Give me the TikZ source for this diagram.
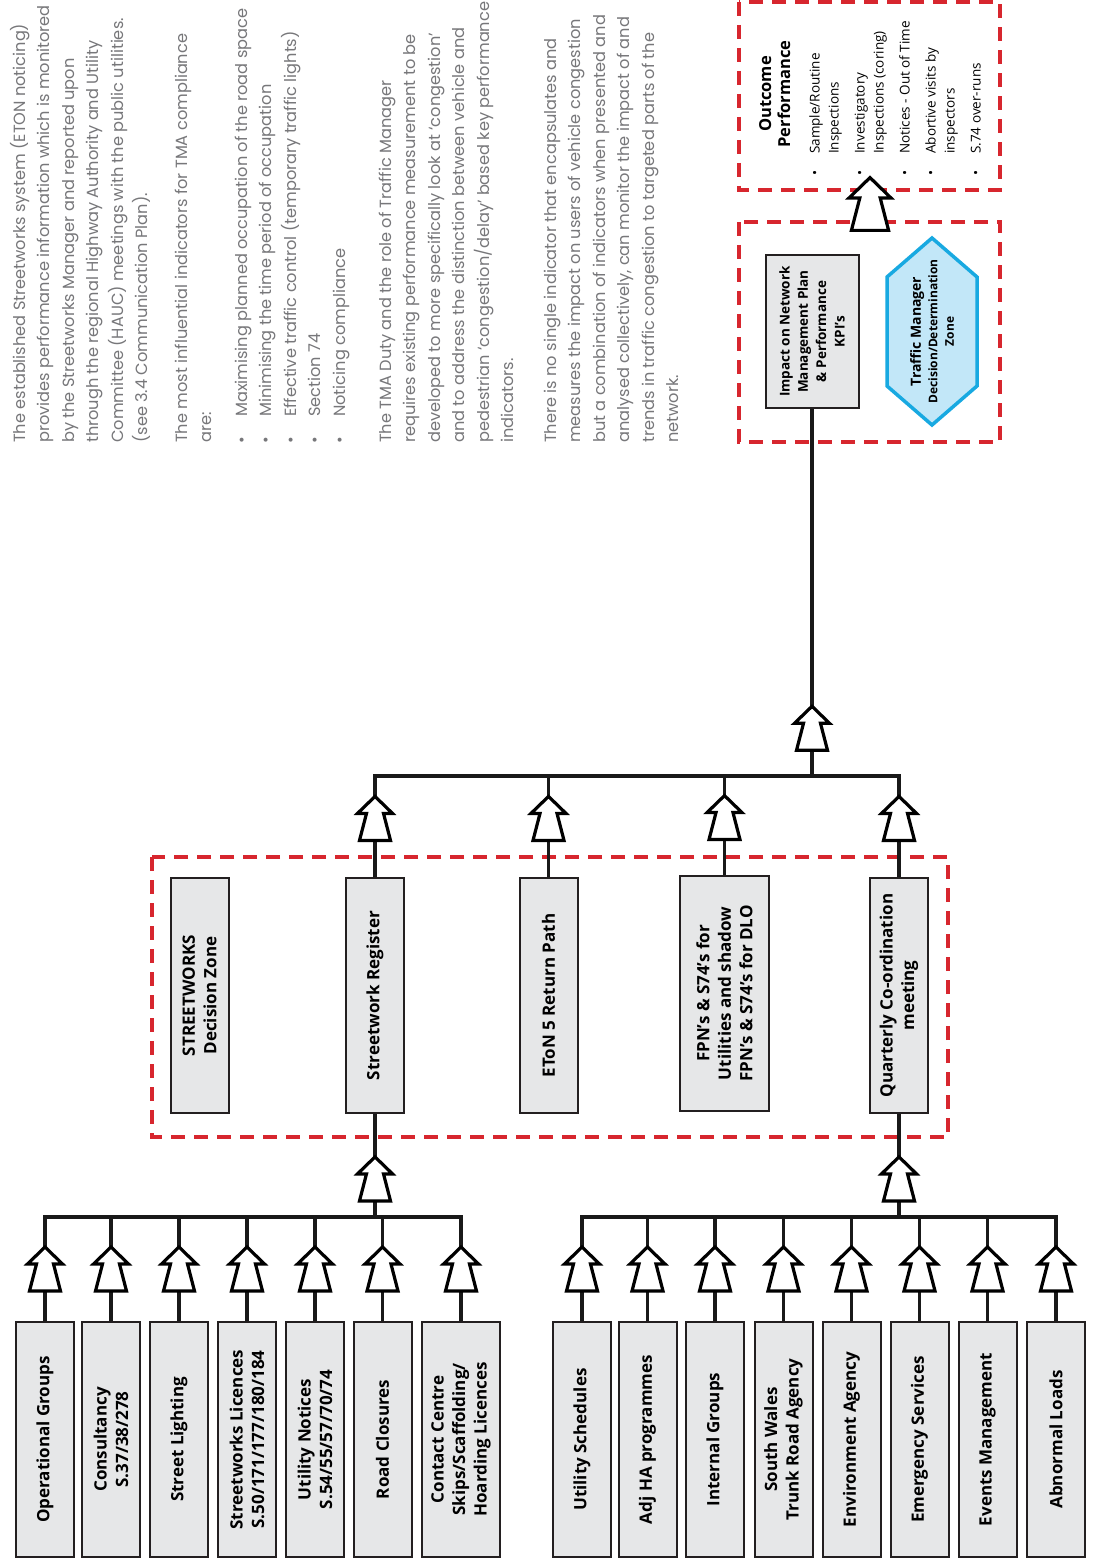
\documentclass[tikz,border=0pt]{standalone}
\usepackage{fontspec}
\newfontfamily\labelfont{Open Sans}
\newfontfamily\bodyfont{Poppins}
\usetikzlibrary{calc}
\definecolor{boxfill}{HTML}{E6E7E8}
\definecolor{boxline}{HTML}{231F20}
\definecolor{zonered}{HTML}{D7262E}
\definecolor{hexfill}{HTML}{C2E7F8}
\definecolor{hexline}{HTML}{18A9E1}
\definecolor{bodygray}{HTML}{77777A}
\tikzset{
  srcbox/.style   = {draw=boxline, fill=boxfill, line width=2pt, rotate=90,
                     inner sep=2pt, align=center, minimum width=235pt, minimum height=58pt,
                     font=\labelfont\bfseries\fontsize{17}{21.5}\selectfont},
  kpibox/.style   = {srcbox, minimum width=153pt, minimum height=93pt,
                     font=\labelfont\bfseries\fontsize{13.5}{18.3}\selectfont},
  conn/.style     = {line width=3.4pt, black!90, line join=miter},
  zone/.style     = {draw=zonered, line width=4pt, dash pattern=on 14pt off 9pt},
  tmhex/.style    = {draw=hexline, fill=hexfill, line width=3.5pt},
  bodytext/.style = {rotate=90, anchor=base west, inner sep=0pt, align=left,
                     text=bodygray, font=\bodyfont\fontsize{16.2}{24.5}\selectfont},
  hollowup/.pic   = {\draw[line width=3.2pt, fill=white, line join=miter]
                     (0,-22) -- (17.5,-5) -- (8.5,-5) -- (15.5,22) -- (-15.5,22)
                     -- (-8.5,-5) -- (-17.5,-5) -- cycle;},
}
\begin{document}
\begin{tikzpicture}[x=1pt, y=-1pt]
  \fill[white] (0,0) rectangle (1092,1562);
  \useasboundingbox (0,0) rectangle (1092,1562);

  % text column (placed by the baseline of the last line)
  \node[bodytext] (para1) at (147.5,443) {The established Streetworks system (ETON noticing)\\provides performance information which is monitored\\by the Streetworks Manager and reported upon\\through the regional Highway Authority and Utility\\Committee (HAUC) meetings with the public utilities.\\(see 3.4 Communication Plan).};
  \node[bodytext] (para2) at (211.5,443) {The most influential indicators for TMA compliance\\are:};
  \node[bodytext] (bullets) at (345,417) {\llap{\textbullet\hspace{20pt}}Maximising planned occupation of the road space\\\llap{\textbullet\hspace{20pt}}Minimising the time period of occupation\\\llap{\textbullet\hspace{20pt}}Effective traffic control (temporary traffic lights)\\\llap{\textbullet\hspace{20pt}}Section 74\\\llap{\textbullet\hspace{20pt}}Noticing compliance};
  \node[bodytext] (para3) at (513.5,443) {The TMA Duty and the role of Traffic Manager\\requires existing performance measurement to be\\developed to more specifically look at ‘congestion’\\and to address the distinction between vehicle and\\pedestrian ‘congestion/delay’ based key performance\\indicators.};
  \node[bodytext] (para4) at (678.5,443) {There is no single indicator that encapsulates and\\measures the impact on users of vehicle congestion\\but a combination of indicators when presented and\\analysed collectively, can monitor the impact of and\\trends in traffic congestion to targeted parts of the\\network.};

  % zones
  \draw[zone] (739,2) rectangle (1000,190);
  \draw[zone] (739,222) rectangle (1000,442);
  \draw[zone] (152,857) rectangle (948,1137);

  % sources
  \node[srcbox] (opgrp)   at (45,1439.5)  {Operational Groups};
  \node[srcbox] (consult) at (111,1439.5) {Consultancy\\S.37/38/278};
  \node[srcbox] (stlight) at (179,1439.5) {Street Lighting};
  \node[srcbox] (swlic)   at (247,1439.5) {Streetworks Licences\\S.50/171/177/180/184};
  \node[srcbox] (utilnot) at (315,1439.5) {Utility Notices\\S.54/55/57/70/74};
  \node[srcbox] (roadcl)  at (382.5,1439.5) {Road Closures};
  \node[srcbox, minimum height=78pt] (contact) at (461,1439.5) {Contact Centre\\Skips/Scaffolding/\\Hoarding Licences};

  \node[srcbox] (utilsch) at (582,1439.5)   {Utility Schedules};
  \node[srcbox] (adjha)   at (647.5,1439.5) {Adj HA programmes};
  \node[srcbox] (intgrp)  at (715,1439.5)   {Internal Groups};
  \node[srcbox] (swtra)   at (783.5,1439.5) {South Wales\\Trunk Road Agency};
  \node[srcbox] (envag)   at (851.5,1439.5) {Environment Agency};
  \node[srcbox] (emsvc)   at (919.5,1439.5) {Emergency Services};
  \node[srcbox] (events)  at (987.5,1439.5) {Events Management};
  \node[srcbox] (abload)  at (1056,1439.5)  {Abnormal Loads};

  % streetworks zone
  \node[srcbox] (swzone) at (199.5,995.5) {STREETWORKS\\Decision Zone};
  \node[srcbox] (swreg)  at (375,995.5)   {Streetwork Register};
  \node[srcbox] (eton)   at (548.5,995.5) {EToN 5 Return Path};
  \node[srcbox, minimum height=89pt] (fpn) at (724.5,993.5) {FPN’s \& S74’s for\\Utilities and shadow\\FPN’s \& S74’s for DLO};
  \node[srcbox] (qcm)    at (899,995.5)   {Quarterly Co-ordination\\meeting};

  % traffic manager zone
  \node[kpibox] (impact) at (812,331.5) {Impact on Network\\Management Plan\\\& Performance\\KPI’s};
  \coordinate (tmc) at (932,331.5);
  \draw[tmhex] ($(tmc)+(0,-93.5)$) -- ++(45,39) -- ++(0,109) -- ++(-45,39)
    -- ++(-45,-39) -- ++(0,-109) -- cycle;
  \node[rotate=90, align=center, font=\labelfont\bfseries\fontsize{12}{16.5}\selectfont] (tmzone) at (tmc)
    {{\fontsize{14}{17}\selectfont Traffic Manager}\\Decision/Determination\\Zone};

  % outcome
  \node[rotate=90, anchor=base, align=center, font=\labelfont\bfseries\fontsize{16.5}{19}\selectfont] (outtitle) at (790,94) {Outcome\\Performance};
  \node[rotate=90, anchor=base west, align=left, inner sep=0pt, font=\labelfont\fontsize{13.5}{19}\selectfont] (outlist) at (980.5,154)
    {\llap{\textbullet\hspace{16.5pt}}Sample/Routine\\Inspections\\[7pt]
     \llap{\textbullet\hspace{16.5pt}}Investigatory\\Inspections (coring)\\[7pt]
     \llap{\textbullet\hspace{16.5pt}}Notices - Out of Time\\[7pt]
     \llap{\textbullet\hspace{16.5pt}}Abortive visits by\\inspectors\\[7pt]
     \llap{\textbullet\hspace{16.5pt}}S.74 over-runs};

  % connectors
  \coordinate (barA) at (0,1217);
  \coordinate (barT) at (0,776);
  \coordinate (jA) at (swreg.west |- barA);
  \coordinate (jB) at (qcm.west |- barA);
  \coordinate (jT) at (impact.west |- barT);
  \foreach \b in {opgrp,consult,stlight,swlic,utilnot,roadcl,contact}
    \draw[conn] (\b.east) |- (jA);
  \foreach \b in {utilsch,adjha,intgrp,swtra,envag,emsvc,events,abload}
    \draw[conn] (\b.east) |- (jB);
  \draw[conn] (jA) -- (swreg.west);
  \draw[conn] (jB) -- (qcm.west);
  \foreach \b in {swreg,eton,fpn,qcm}
    \draw[conn] (\b.east) |- (jT);
  \draw[conn] (jT) -- (impact.west);

  % hollow arrows
  \foreach \b in {opgrp,consult,stlight,swlic,utilnot,roadcl,contact,utilsch,adjha,intgrp,swtra,envag,emsvc,events,abload}
    \pic at ($(\b.east)!0.5!(\b.east |- barA)$) {hollowup};
  \pic at ($(jA)!0.37!(swreg.west)$) {hollowup};
  \pic at ($(jB)!0.37!(qcm.west)$) {hollowup};
  \foreach \b in {swreg,eton,fpn,qcm}
    \pic at ($(\b.east |- barT)!0.42!(\b.east)$) {hollowup};
  \pic at ($(jT)!0.13!(impact.west)$) {hollowup};
  \pic[scale=1.2] at (870,204) {hollowup};
\end{tikzpicture}
\end{document}
